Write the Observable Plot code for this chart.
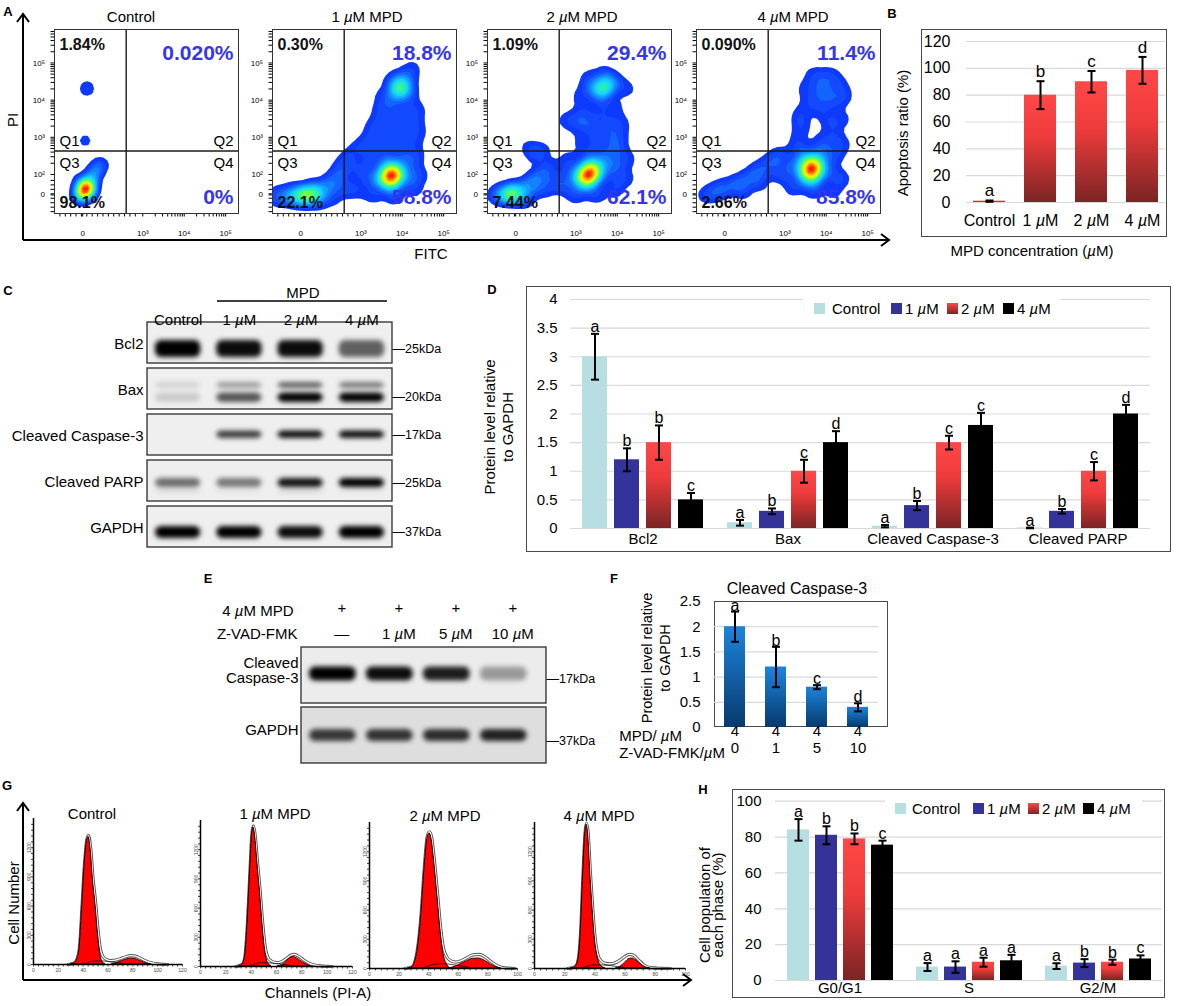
<!DOCTYPE html>
<html>
<head>
<meta charset="utf-8">
<script src="https://cdn.jsdelivr.net/npm/d3@7"></script>
<script src="https://cdn.jsdelivr.net/npm/@observablehq/plot@0.6"></script>
<style>
html,body{margin:0;padding:0;background:#fff;}
#fig{position:relative;width:1178px;height:1006px;overflow:hidden;background:#fff;font-family:"Liberation Sans",Arial,Helvetica,sans-serif;}
#fig svg{max-width:none;}
</style>
</head>
<body>
<div id="fig">
<svg width="0" height="0" style="position:absolute;left:0;top:0">
<defs>
<linearGradient id="gRed" x1="0" y1="0" x2="0" y2="1">
<stop offset="0" stop-color="#ff4848"/><stop offset="0.4" stop-color="#ee3b3b"/><stop offset="1" stop-color="#7b2424"/>
</linearGradient>
<linearGradient id="gBlue" x1="0" y1="0" x2="0" y2="1">
<stop offset="0" stop-color="#1c84de"/><stop offset="1" stop-color="#073a6c"/>
</linearGradient>
<filter id="blurBand" filterUnits="userSpaceOnUse" x="-2000" y="-2000" width="5000" height="5000">
<feGaussianBlur stdDeviation="2.4"/>
</filter>
</defs>
</svg>
</div>
<script>
// ================= DATA =================
// Panel A – flow cytometry (x: log FITC, y: log PI, weight = local cell density)
const flowTitles = ["Control", "1 <i>µ</i>M MPD", "2 <i>µ</i>M MPD", "4 <i>µ</i>M MPD"];
const flowQ1 = ["1.84%", "0.30%", "1.09%", "0.090%"];
const flowQ2 = ["0.020%", "18.8%", "29.4%", "11.4%"];
const flowQ3 = ["98.1%", "22.1%", "7.44%", "2.66%"];
const flowQ4 = ["0%", "58.8%", "62.1%", "85.8%"];
const gateFITC = [2.6];
const gatePI = [2.63];
const flowXTicks = [1.55, 3, 4, 5];
const flowXLabels = ["0", "10³", "10⁴", "10⁵"];
const flowYTicks = [1.45, 2, 3, 4, 5];
const flowYLabels = ["0", "10²", "10³", "10⁴", "10⁵"];
const flowCtrl = [
  [1.61,1.60,10],[1.7,1.78,3],[1.8,1.98,2],[1.9,2.18,1.4],[1.5,1.8,1.2],[1.45,1.4,1.4],[1.75,1.5,1.5],[1.55,1.45,2],[2.0,2.3,0.8],
  [1.65,4.31,1.2],
  [1.61,2.91,0.9]
];
const flow1 = [
  [0.9,1.4,2],[1.15,1.42,3],[1.4,1.45,4],[1.55,1.44,4],[1.67,1.46,5],[1.8,1.48,4],[1.9,1.5,4],[2.1,1.6,3],[2.3,1.75,2.5],[2.45,1.95,2],[2.3,1.35,1.5],[2.0,1.3,1.5],[1.6,1.3,1.5],[2.55,2.2,2],[2.7,2.45,2],[2.6,1.6,2],
  [3.73,1.97,7],[3.63,1.9,4],[3.83,2.05,4],[3.7,2.1,3],[3.78,1.84,3],
  [3.55,1.85,4],[3.9,2.1,4],[3.75,1.7,3],[3.6,2.2,3],[4.1,1.9,3],[4.2,2.3,2],[3.3,1.9,2.5],[3.0,2.1,2],[2.9,1.6,2],[3.3,1.45,2],[3.8,1.4,2],[4.3,1.6,2],[4.4,2.0,2],[3.2,2.45,2],[3.6,2.5,2],[4.0,2.5,2],[4.35,2.55,1.5],
  [2.95,2.75,1.5],[3.2,2.9,2],[3.5,2.9,2],[3.85,2.9,2],[4.2,2.9,1.8],[4.4,3.1,1.5],[3.3,3.3,1.8],[3.6,3.3,2],[3.95,3.3,2],[4.3,3.4,1.6],[3.45,3.7,1.8],[3.75,3.7,2],[4.1,3.7,2],[4.4,3.75,1.5],[3.6,4.05,2],
  [3.93,4.31,5],[3.85,4.2,3],[4.0,4.42,3],[4.15,4.2,3],[3.8,4.5,2.5],[4.1,4.6,2.5],[4.25,4.85,1.5],[3.2,4.34,0.9]
];
const flow2 = [
  [1.06,1.45,2],[1.3,1.47,3.5],[1.4,1.47,4],[1.5,1.49,6],[1.7,1.55,3.5],[1.9,1.75,3],[2.1,1.95,2.5],[2.35,2.15,2.5],[1.8,1.3,1.5],[2.2,1.6,2],[2.5,1.75,2],[2.0,2.55,1.6],[2.2,2.65,1.4],[1.85,2.75,1.2],
  [3.30,2.03,7],[3.2,1.95,4],[3.4,2.1,4],[3.28,2.15,3],[3.35,1.9,3],
  [3.15,1.85,4],[3.45,2.2,4],[3.3,1.75,3],[3.6,2.0,3],[3.7,2.4,3.5],[3.95,2.2,2.5],[2.95,2.0,2.5],[2.8,2.35,2],[2.75,1.7,2],[3.0,1.45,2],[3.5,1.45,2],[3.95,1.6,2],[4.2,1.9,1.8],[4.25,2.4,1.6],[3.3,2.5,2],[4.0,2.65,2],
  [3.05,2.9,1.2],[3.45,2.9,2],[3.85,2.9,2.3],[4.1,3.0,1.6],[2.75,3.45,1.3],[2.95,3.45,1.4],[3.15,3.4,1.5],[3.4,3.3,1.8],[3.8,3.3,2],[4.1,3.4,1.5],[3.2,3.7,1.5],[3.6,3.7,1.8],[3.95,3.8,1.5],[3.1,4.1,1.5],
  [3.66,4.31,5],[3.58,4.2,3],[3.74,4.42,3],[3.4,4.35,2.5],[3.95,4.45,2.5],[3.7,4.7,2],[3.3,4.6,1.5],[4.25,4.3,1.5]
];
const flow4 = [
  [1.1,1.45,1.8],[1.35,1.55,2.2],[1.6,1.65,2.5],[1.9,1.78,2.5],[2.2,1.95,2.5],[2.45,2.15,2.5],[2.4,1.75,1.5],[2.0,1.5,1.3],[2.7,2.35,2],
  [3.64,2.16,7],[3.54,2.08,4],[3.74,2.24,4],[3.6,2.3,3],[3.7,2.02,3],
  [3.5,1.95,4],[3.8,2.35,4],[3.7,1.9,3],[3.45,2.35,3],[4.0,2.1,3],[4.2,2.5,2],[4.35,1.9,2],[3.2,2.2,2.5],[2.9,2.0,2],[2.9,2.5,2],[3.2,1.65,2],[3.7,1.55,2],[4.2,1.5,1.5],[3.4,2.6,2],[3.9,2.65,2],
  [3.3,2.9,1.6],[3.4,3.3,1.6],[3.35,3.6,1.5],[3.9,2.9,1.6],[4.2,3.0,1.6],[4.4,2.8,1.5],[4.1,3.4,1.6],[4.4,3.5,1.4],[3.9,3.7,1.5],[3.6,3.9,1.6],[3.9,4.1,2.2],[4.2,4.0,2],[3.5,4.3,1.6],[3.9,4.4,2.5],[4.3,4.4,2],[3.7,4.7,1.6],[4.1,4.7,1.6],[4.45,4.1,1.4]
];

// Panel B – apoptosis ratio
const bCats = ["Control", "1 µM", "2 µM", "4 µM"];
const bVals = [1.0, 80, 90, 98.5];
const bErr = [0.5, 10.4, 8, 10];
const bLetters = ["a", "b", "c", "d"];
const bTicks = [0, 20, 40, 60, 80, 100, 120];

// Panel C – western blot (relative band darkness per lane)
const blotProteins = ["Bcl2", "Bax", "Cleaved Caspase-3", "Cleaved PARP", "GAPDH"];
const blotLaneNames = ["Control", "1 µM", "2 µM", "4 µM"];
const blotLanes = [0, 1, 2, 3];
const blotKda = ["25kDa", "20kDa", "17kDa", "25kDa", "37kDa"];
const bcl2Band = [1.0, 0.95, 0.95, 0.6];
const baxUpper = [0.12, 0.35, 0.6, 0.5];
const baxLower = [0.15, 0.65, 1.0, 1.0];
const casp3Band = [0.0, 0.75, 0.95, 0.95];
const parpBand = [0.55, 0.5, 0.92, 1.0];
const parpLower = [0.12, 0.06, 0.14, 0.06];
const gapdhBand = [1.0, 1.0, 0.95, 1.0];

// Panel D – protein levels
const dProteins = ["Bcl2", "Bax", "Cleaved Caspase-3", "Cleaved PARP"];
const dGroups = ["Control", "1 µM", "2 µM", "4 µM"];
const dControl = [3.0, 0.1, 0.04, 0.01];
const d1uM = [1.2, 0.3, 0.4, 0.3];
const d2uM = [1.5, 1.0, 1.5, 1.0];
const d4uM = [0.5, 1.5, 1.8, 2.0];
const dErrCtrl = [0.4, 0.05, 0.02, 0.006];
const dErr1 = [0.2, 0.05, 0.08, 0.04];
const dErr2 = [0.3, 0.2, 0.12, 0.16];
const dErr4 = [0.12, 0.2, 0.22, 0.16];
const dLetCtrl = ["a", "a", "a", "a"];
const dLet1 = ["b", "b", "b", "b"];
const dLet2 = ["b", "c", "c", "c"];
const dLet4 = ["c", "d", "c", "d"];
const dTicks = [0, 0.5, 1, 1.5, 2, 2.5, 3, 3.5, 4];

// Panel E – blot with Z-VAD-FMK
const eRows = ["Cleaved\nCaspase-3", "GAPDH"];
const eKda = ["17kDa", "37kDa"];
const eMpd = ["+", "+", "+", "+"];
const eZvad = ["—", "1 µM", "5 µM", "10 µM"];
const eCasp3 = [1.0, 0.95, 0.88, 0.35];
const eGapdh = [0.75, 0.77, 0.8, 0.85];

// Panel F – cleaved caspase-3 quantification
const fLanes = ["0", "1", "5", "10"];
const fMpd = ["4", "4", "4", "4"];
const fVals = [2.0, 1.2, 0.8, 0.4];
const fErr = [0.3, 0.4, 0.04, 0.08];
const fLetters = ["a", "b", "c", "d"];
const fTicks = [0, 0.5, 1, 1.5, 2, 2.5];

// Panel G – cell-cycle histograms [channel, count]
const gTitles = ["Control", "1 <i>µ</i>M MPD", "2 <i>µ</i>M MPD", "4 <i>µ</i>M MPD"];
const hCtrlG1 = [[30,0],[33,15],[35,50],[37,160],[39,560],[41,1000],[43,1270],[44.3,1310],[46,1180],[48,850],[50,600],[52,300],[54,90],[56,20],[58,0]];
const hCtrlG2 = [[63,0],[67,15],[71,35],[75,52],[79,62],[83,52],[87,32],[91,12],[95,0]];
const hCtrlS = [[40,0],[45,25],[50,38],[56,36],[62,28],[68,18],[74,8],[78,0]];
const hCtrlTot = [[28,0],[33,17],[35,55],[37,170],[39,575],[41,1015],[43,1285],[44.3,1325],[46,1200],[48,880],[50,640],[52,350],[54,150],[56,80],[59,50],[62,40],[66,45],[70,60],[74,78],[78,92],[82,86],[86,65],[90,40],[95,18],[100,6],[104,2],[108,0]];
const h1G1 = [[30,0],[33,20],[35,90],[37,420],[39,950],[40.5,1330],[41.7,1430],[43,1350],[45,1050],[47,760],[49,420],[51,160],[53,45],[56,0]];
const h1G2 = [[61,0],[65,20],[68,55],[71,90],[73,100],[76,85],[80,50],[84,20],[88,0]];
const h1S = [[38,0],[43,28],[48,40],[54,38],[60,30],[66,20],[72,8],[76,0]];
const h1Tot = [[28,0],[33,22],[35,95],[37,430],[39,965],[40.5,1345],[41.7,1445],[43,1365],[45,1070],[47,790],[49,460],[51,210],[53,100],[56,55],[60,40],[64,50],[68,85],[72,120],[74,125],[77,110],[81,72],[85,38],[90,16],[95,6],[100,2],[104,0]];
const h2G1 = [[26,0],[29,18],[31,80],[33,250],[35,560],[37,1000],[39,1330],[40.5,1386],[42,1320],[44,1050],[46,720],[48,380],[50,150],[52,50],[55,0]];
const h2G2 = [[54,0],[58,20],[62,48],[66,78],[70,100],[74,103],[78,80],[82,42],[86,12],[89,0]];
const h2S = [[35,0],[40,30],[45,45],[50,50],[55,42],[60,30],[66,15],[72,0]];
const h2Tot = [[24,0],[29,20],[31,88],[33,265],[35,580],[37,1025],[39,1355],[40.5,1405],[42,1345],[44,1085],[46,765],[48,430],[50,210],[52,125],[55,78],[58,66],[62,80],[66,112],[70,140],[74,145],[78,120],[82,72],[86,32],[90,10],[94,3],[98,0]];
const h4G1 = [[24,0],[27,18],[29,90],[30.5,350],[32,900],[33.5,1380],[34.4,1480],[35.5,1380],[37,960],[38.5,600],[40,300],[42,100],[44,30],[47,0]];
const h4G2 = [[54,0],[57,20],[60,60],[63,100],[65,103],[68,75],[71,35],[74,10],[77,0]];
const h4S = [[30,0],[35,25],[40,38],[45,36],[50,30],[55,20],[60,10],[65,0]];
const h4Tot = [[22,0],[27,20],[29,95],[30.5,360],[32,915],[33.5,1395],[34.4,1495],[35.5,1400],[37,985],[38.5,630],[40,335],[42,140],[44,80],[47,52],[50,48],[54,62],[57,90],[60,125],[63,145],[66,132],[69,85],[72,42],[75,16],[79,6],[84,2],[90,0]];

// Panel H – cell population per phase
const hPhases = ["G0/G1", "S", "G2/M"];
const hControl = [84, 7.5, 8];
const h1uM = [81, 7.5, 9.7];
const h2uM = [79, 10.2, 10.2];
const h4uM = [75.5, 11, 12];
const hErrCtrl = [6, 2.2, 1.6];
const hErr1 = [5, 3.2, 2.2];
const hErr2 = [3, 2.5, 1.4];
const hErr4 = [2.5, 3.3, 2];
const hLetCtrl = ["a", "a", "a"];
const hLet1 = ["b", "a", "b"];
const hLet2 = ["b", "a", "b"];
const hLet4 = ["c", "a", "c"];
const hTicks = [0, 20, 40, 60, 80, 100];

// ================= STYLE / HELPERS =================
const FONT = '"Liberation Sans", Arial, Helvetica, sans-serif';
const BLUE = "#3535ee";
const groupFills = ["#b7dfe1", "#333399", "url(#gRed)", "#000000"];
const groupCss = ["#b7dfe1", "#333399", "linear-gradient(#ff4848,#7b2424)", "#000"];
const baseStyle = {fontFamily: FONT, fontSize: "15px", background: "transparent", overflow: "visible", color: "#000"};
const fig = document.getElementById("fig");
const jet = d3.piecewise(d3.interpolateRgb, ["#0a28ff","#1450ff","#1496ff","#14d2ff","#28f0b4","#64ff50","#d2ff14","#ffe600","#ff8c00","#ff1e00"]);
const capSym = {draw(ctx) { ctx.moveTo(-4, 0); ctx.lineTo(4, 0); }};

function italicMu(root) {
  root.querySelectorAll("text, tspan").forEach(el => {
    if (el.children.length) return;
    const s = el.textContent;
    if (!s.includes("µ")) return;
    el.textContent = "";
    s.split("µ").forEach((part, i) => {
      if (i > 0) {
        const t = document.createElementNS("http://www.w3.org/2000/svg", "tspan");
        t.setAttribute("font-style", "italic");
        t.textContent = "µ";
        el.appendChild(t);
      }
      if (part) el.appendChild(document.createTextNode(part));
    });
  });
}
function place(node, left, top) {
  node.style.position = "absolute";
  node.style.left = left + "px";
  node.style.top = top + "px";
  italicMu(node);
  node.querySelectorAll('g[aria-label="band"], g[aria-description="band"]').forEach(g => g.setAttribute("filter", "url(#blurBand)"));
  fig.appendChild(node);
  return node;
}
function label(html, x, y, o = {}) {
  const d = document.createElement("div");
  d.innerHTML = html;
  const size = o.size || 15;
  Object.assign(d.style, {position: "absolute", left: x + "px", top: y + "px", fontSize: size + "px",
    fontWeight: o.weight || "normal", whiteSpace: "nowrap", lineHeight: (o.lh || size) + "px",
    color: o.color || "#000", textAlign: "center", fontFamily: FONT});
  const tx = o.anchor === "start" ? "0%" : o.anchor === "end" ? "-100%" : "-50%";
  d.style.transform = `translate(${tx},-50%)` + (o.rotate ? ` rotate(${o.rotate}deg)` : "");
  fig.appendChild(d);
  return d;
}
function box(x1, y1, x2, y2, border = "1.5px solid #4a4a4a", bg = "transparent") {
  const d = document.createElement("div");
  Object.assign(d.style, {position: "absolute", left: x1 + "px", top: y1 + "px", width: (x2 - x1) + "px",
    height: (y2 - y1) + "px", border, background: bg, boxSizing: "border-box"});
  fig.appendChild(d);
  return d;
}
function errorBars(rows, xKey) {
  return [
    Plot.ruleX(rows, {x: xKey, y1: d => d.v - d.e, y2: d => d.v + d.e, stroke: "#000", strokeWidth: 2}),
    Plot.dot(rows, {x: xKey, y: d => d.v + d.e, symbol: capSym, r: 3, fill: "none", stroke: "#000", strokeWidth: 2}),
    Plot.dot(rows, {x: xKey, y: d => d.v - d.e, symbol: capSym, r: 3, fill: "none", stroke: "#000", strokeWidth: 2})
  ];
}
function legend(x1, x2, yc, swX, txX) {
  box(x1, yc - 10, x2, yc + 10, "none", "#fff");
  dGroups.forEach((g, i) => {
    box(swX[i], yc - 5.5, swX[i] + 11, yc + 5.5, "none", groupCss[i]);
    label(g.replace("µ", "<i>µ</i>"), txX[i], yc, {anchor: "start", size: 15});
  });
}
function safe(f) { try { f(); } catch (e) { console.error(e); } }

// ================= PANEL A =================
const flowLeft = [54, 272, 487, 696];
const flowTitleX = [131, 367, 582, 793];
const flowData = [flowCtrl, flow1, flow2, flow4];
const flowBw = [3.5, 5, 5, 5];
function flowPlot(pts, bw, i) {
  const xMinor = d3.range(1.0, 2.95, 0.13).concat([3, 4].flatMap(d => d3.range(2, 10).map(k => d + Math.log10(k))));
  const yMinor = d3.range(1.0, 1.95, 0.12).concat([2, 3, 4, 5].flatMap(d => d3.range(2, 10).map(k => d + Math.log10(k))).filter(v => v < 5.9));
  const xt = flowXTicks.concat(xMinor);
  const yt = flowYTicks.concat(yMinor);
  const fmtX = v => { const j = flowXTicks.indexOf(v); return j >= 0 ? flowXLabels[j] : ""; };
  const fmtY = v => { const j = flowYTicks.indexOf(v); return j >= 0 ? flowYLabels[j] : ""; };
  const pctB = {fontSize: 16, fontWeight: "bold", fill: "#111"};
  const pctL = {fontSize: 21, fontWeight: "bold", fill: BLUE};
  return Plot.plot({
    width: 214, height: 216, marginLeft: 28, marginRight: 2, marginTop: 2, marginBottom: 30,
    style: {...baseStyle, fontSize: "8px"},
    x: {domain: [0.87, 5.31], ticks: xt, tickFormat: fmtX, tickSize: 3.5, tickPadding: 13, label: null},
    y: {domain: [0.95, 5.9], ticks: yt, tickFormat: fmtY, tickSize: 3.5, tickPadding: 6, label: null},
    color: {type: "linear", interpolate: jet},
    marks: [
      Plot.density(pts, {x: d => d[0], y: d => d[1], weight: d => d[2], bandwidth: bw, thresholds: 22, fill: "density", stroke: "none", clip: true}),
      Plot.ruleX(gateFITC, {stroke: "#1a1a1a", strokeWidth: 1.4}),
      Plot.ruleY(gatePI, {stroke: "#1a1a1a", strokeWidth: 1.4}),
      Plot.frame({stroke: "#333", strokeWidth: 1}),
      Plot.text([flowQ1[i]], {frameAnchor: "top-left", dx: 5, dy: 9, text: d => d, textAnchor: "start", ...pctB}),
      Plot.text([flowQ2[i]], {frameAnchor: "top-right", dx: -5, dy: 16, text: d => d, textAnchor: "end", ...pctL}),
      Plot.text([flowQ3[i]], {frameAnchor: "bottom-left", dx: 5, dy: -6, text: d => d, textAnchor: "start", ...pctB}),
      Plot.text([flowQ4[i]], {frameAnchor: "bottom-right", dx: -5, dy: -10, text: d => d, textAnchor: "end", ...pctL}),
      Plot.text(gatePI, {y: d => d, frameAnchor: "left", text: () => "Q1", dx: 5, dy: -10, textAnchor: "start", fontSize: 15}),
      Plot.text(gatePI, {y: d => d, frameAnchor: "right", text: () => "Q2", dx: -5, dy: -10, textAnchor: "end", fontSize: 15}),
      Plot.text(gatePI, {y: d => d, frameAnchor: "left", text: () => "Q3", dx: 5, dy: 12, textAnchor: "start", fontSize: 15}),
      Plot.text(gatePI, {y: d => d, frameAnchor: "right", text: () => "Q4", dx: -5, dy: 12, textAnchor: "end", fontSize: 15})
    ]
  });
}
flowData.forEach((pts, i) => safe(() => {
  place(flowPlot(pts, flowBw[i], i), flowLeft[i] - 28, 27);
  label(flowTitles[i], flowTitleX[i], 16, {size: 15});
}));
label("PI", 12, 120, {size: 15, rotate: -90});
label("FITC", 431, 253, {size: 15});

// ================= PANEL B =================
safe(() => {
  box(921, 29, 1167, 237);
  const rows = bCats.map((c, i) => ({cat: c, v: bVals[i], e: bErr[i], l: bLetters[i]}));
  const p = Plot.plot({
    width: 282, height: 208, marginLeft: 81, marginRight: 2, marginTop: 12, marginBottom: 35,
    style: {...baseStyle, fontSize: "16px"},
    x: {domain: bCats, paddingInner: 0.365, paddingOuter: 0.1, label: null, tickSize: 0, tickPadding: 12},
    y: {domain: [0, 120], ticks: bTicks, tickFormat: d => String(d), label: null, tickSize: 0, tickPadding: 16},
    marks: [
      Plot.ruleY(bTicks, {stroke: "#d9d9d9", strokeWidth: 1.2}),
      Plot.barY(rows, {x: "cat", y: "v", fill: "url(#gRed)"}),
      ...errorBars(rows, "cat"),
      Plot.text(rows, {x: "cat", y: d => d.v + d.e, text: "l", dy: -4, lineAnchor: "bottom", fontSize: 17})
    ]
  });
  place(p, 885, 29);
  label("Apoptosis ratio (%)", 902, 133, {size: 15, rotate: -90});
  label("MPD concentration  (<i>µ</i>M)", 1032, 250, {size: 15});
});

// ================= PANEL C =================
safe(() => {
  const cDomain = [-0.5, 3.5];
  const half = 0.37;
  const kdaDy = [6, 8, 0, 2, 5];
  const band = (p, vals, it, ib) => Plot.barX(vals.map((v, i) => ({p, lane: blotLanes[i], v})),
    {x1: d => d.lane - half, x2: d => d.lane + half, y: "p", fill: "#050505", fillOpacity: "v", insetTop: it, insetBottom: ib, rx: 6, ariaLabel: "band", ariaDescription: "band"});
  const p = Plot.plot({
    width: 450, height: 260, marginLeft: 147, marginRight: 58, marginTop: 31.7, marginBottom: 2,
    style: baseStyle,
    x: {domain: cDomain, axis: null},
    y: {domain: blotProteins, paddingInner: 0.098, paddingOuter: 0, axis: null},
    opacity: {domain: [0, 1], range: [0, 1]},
    marks: [
      Plot.barX(blotProteins, {x1: () => cDomain[0], x2: () => cDomain[1], y: d => d, fill: "#efefef", stroke: "#3a3a3a", strokeWidth: 1.4}),
      band("Bcl2", bcl2Band, 18, 6),
      band("Bax", baxUpper, 14, 21),
      band("Bax", baxLower, 24.5, 7),
      band("Cleaved Caspase-3", casp3Band, 16.5, 17),
      band("Cleaved PARP", parpBand, 18, 14),
      band("Cleaved PARP", parpLower, 29.5, 8.5),
      band("GAPDH", gapdhBand, 20, 9),
      Plot.text(blotProteins, {y: d => d, text: d => d, frameAnchor: "left", textAnchor: "end", dx: -4, dy: 1, fontSize: 15}),
      ...blotProteins.map((pr, i) => Plot.text([pr], {y: d => d, text: () => "—" + blotKda[i], frameAnchor: "right", textAnchor: "start", dy: kdaDy[i], fontSize: 12.5})),
      Plot.text(blotLaneNames, {x: (d, i) => blotLanes[i], text: d => d, frameAnchor: "top", dy: -8, fontSize: 15})
    ]
  });
  place(p, 0, 290);
  label("MPD", 303, 292, {size: 15});
});

// ================= PANEL D =================
safe(() => {
  box(526, 286, 1171, 552);
  const vals = [dControl, d1uM, d2uM, d4uM], errs = [dErrCtrl, dErr1, dErr2, dErr4], lets = [dLetCtrl, dLet1, dLet2, dLet4];
  const rows = dProteins.flatMap((pr, pi) => dGroups.map((g, gi) => ({p: pr, g, v: vals[gi][pi], e: errs[gi][pi], l: lets[gi][pi]})));
  const p = Plot.plot({
    width: 701, height: 266, marginLeft: 100, marginRight: 21, marginTop: 13, marginBottom: 24,
    style: baseStyle,
    facet: {data: rows, x: "p"},
    fx: {domain: dProteins, padding: 0, label: null, axis: "bottom", tickSize: 0, tickPadding: 5},
    x: {domain: dGroups, paddingInner: 0.22, paddingOuter: 0.34, axis: null},
    y: {domain: [0, 4], ticks: dTicks, tickFormat: d => String(d), tickSize: 0, tickPadding: 13, label: null},
    color: {domain: dGroups, range: groupFills},
    marks: [
      Plot.ruleY(dTicks, {stroke: "#d9d9d9", strokeWidth: 1.2}),
      Plot.barY(rows, {x: "g", y: "v", fill: "g"}),
      ...errorBars(rows, "g"),
      Plot.text(rows, {x: "g", y: d => d.v + d.e, text: "l", dy: -2, lineAnchor: "bottom", fontSize: 16})
    ]
  });
  place(p, 470, 286);
  legend(803, 1060, 308, [814, 891, 947, 1003], [832, 905, 961, 1017]);
  label("Protein level relative<br>to GAPDH", 499, 427, {size: 15, lh: 18, rotate: -90});
});

// ================= PANEL E =================
safe(() => {
  const eDomain = [-0.55, 3.75];
  const half = 0.41;
  const band = (r, vals, it, ib) => Plot.barX(vals.map((v, i) => ({r, lane: blotLanes[i], v})),
    {x1: d => d.lane - half, x2: d => d.lane + half, y: "r", fill: "#050505", fillOpacity: "v", insetTop: it, insetBottom: ib, rx: 6, ariaLabel: "band", ariaDescription: "band"});
  const p = Plot.plot({
    width: 400, height: 185, marginLeft: 101, marginRight: 54, marginTop: 62, marginBottom: 7,
    style: baseStyle,
    x: {domain: eDomain, axis: null},
    y: {domain: eRows, paddingInner: 0.067, paddingOuter: 0, axis: null},
    opacity: {domain: [0, 1], range: [0, 1]},
    marks: [
      Plot.barX(eRows, {x1: () => eDomain[0], x2: () => eDomain[1], y: d => d, fill: (d, i) => ["#ececec", "#dedede"][i], stroke: "#3a3a3a", strokeWidth: 1.4}),
      band(eRows[0], eCasp3, 19.5, 22.5),
      band(eRows[1], eGapdh, 22, 22),
      Plot.text(eRows, {y: d => d, text: d => d, frameAnchor: "left", textAnchor: "end", dx: -3, dy: -5, fontSize: 15, lineHeight: 1.0}),
      ...eRows.map((r, i) => Plot.text([r], {y: d => d, text: () => "—" + eKda[i], frameAnchor: "right", textAnchor: "start", dy: [3, 5][i], fontSize: 12.5})),
      Plot.text(eMpd, {x: (d, i) => blotLanes[i], text: d => d, frameAnchor: "top", dx: 9, dy: -45, fontSize: 15}),
      Plot.text(eZvad, {x: (d, i) => blotLanes[i], text: d => d, frameAnchor: "top", dx: 9, dy: -19, fontSize: 15}),
      Plot.text(["4 µM MPD"], {frameAnchor: "top-left", text: d => d, textAnchor: "end", dx: -8, dy: -42, fontSize: 15}),
      Plot.text(["Z-VAD-FMK"], {frameAnchor: "top-left", text: d => d, textAnchor: "end", dx: -4, dy: -19, fontSize: 15})
    ]
  });
  place(p, 200, 585);
});

// ================= PANEL F =================
safe(() => {
  box(714, 601, 888, 727);
  const rows = fLanes.map((l, i) => ({lane: l, v: fVals[i], e: fErr[i], l: fLetters[i], mpd: fMpd[i]}));
  const p = Plot.plot({
    width: 208, height: 171, marginLeft: 34, marginRight: 10, marginTop: 10, marginBottom: 35,
    style: baseStyle,
    x: {domain: fLanes, paddingInner: 0.48, paddingOuter: 0.24, axis: null},
    y: {domain: [0, 2.5], ticks: fTicks, tickFormat: d => String(d), tickSize: 0, tickPadding: 14, label: null},
    marks: [
      Plot.ruleY(fTicks.slice(1, -1), {stroke: "#d9d9d9", strokeWidth: 1.2}),
      Plot.barY(rows, {x: "lane", y: "v", fill: "url(#gBlue)"}),
      ...errorBars(rows, "lane"),
      Plot.text(rows, {x: "lane", y: d => d.v + d.e, text: "l", dy: -1, lineAnchor: "bottom", fontSize: 16}),
      Plot.text(rows, {x: "lane", frameAnchor: "bottom", text: "mpd", dy: 8, fontSize: 15}),
      Plot.text(rows, {x: "lane", frameAnchor: "bottom", text: "lane", dy: 25, fontSize: 15})
    ]
  });
  place(p, 680, 591);
  label("Cleaved Caspase-3", 797, 589, {size: 16});
  label("Protein level relative<br>to GAPDH", 656, 658, {size: 14.5, lh: 18, rotate: -90});
  label("MPD/ <i>µ</i>M", 682, 735, {size: 15, anchor: "end"});
  label("Z-VAD-FMK/<i>µ</i>M", 725, 752, {size: 15, anchor: "end"});
});

// ================= PANEL G =================
const histSets = [
  [hCtrlG1, hCtrlG2, hCtrlS, hCtrlTot, 120, {x0: 33, len: 149, top: 818}],
  [h1G1, h1G2, h1S, h1Tot, 120, {x0: 200, len: 152, top: 820}],
  [h2G1, h2G2, h2S, h2Tot, 100, {x0: 369, len: 148, top: 822}],
  [h4G1, h4G2, h4S, h4Tot, 100, {x0: 534, len: 151, top: 822}]
];
const gTitleXY = [[92, 813], [275, 813], [445, 815], [599, 815]];
histSets.forEach(([g1, g2, s, tot, xmax, o], i) => safe(() => {
  const cv = {x: d => d[0], y: d => d[1], curve: "monotone-x"};
  const p = Plot.plot({
    width: o.len + 14, height: 158, marginLeft: 10, marginRight: 4, marginTop: 2, marginBottom: 10,
    style: {...baseStyle, fontSize: "5px", color: "#444"},
    x: {domain: [0, xmax], ticks: d3.range(0, xmax + 0.1, 4), tickFormat: d => d % 20 === 0 ? String(d) : "", tickSize: 2.5, tickPadding: 1, label: null},
    y: {domain: [0, 1500], ticks: d3.range(0, 1500, 60), tickFormat: d => d % 300 === 0 ? String(d) : "", tickSize: 2, tickRotate: -90, tickPadding: 1, label: null},
    marks: [
      Plot.lineY(tot, {...cv, stroke: "#555", strokeWidth: 3.2}),
      Plot.lineY(tot, {...cv, stroke: "#fff", strokeWidth: 1.3}),
      Plot.areaY(g1, {...cv, fill: "#ff0000", stroke: "#000", strokeWidth: 1}),
      Plot.areaY(g2, {...cv, fill: "#ff0000", stroke: "#000", strokeWidth: 0.8}),
      Plot.lineY(s, {...cv, stroke: "#000", strokeWidth: 0.7}),
      Plot.ruleX([0], {stroke: "#000", strokeWidth: 1.5}),
      Plot.ruleY([0], {stroke: "#000", strokeWidth: 1.5})
    ]
  });
  place(p, o.x0 - 10, o.top - 2);
  label(gTitles[i], gTitleXY[i][0], gTitleXY[i][1], {size: 15});
}));
label("Cell Number", 13, 903, {size: 15, rotate: -90});
label("Channels  (PI-A)", 318, 992, {size: 15});

// ================= PANEL H =================
safe(() => {
  box(732, 789, 1165, 998);
  const vals = [hControl, h1uM, h2uM, h4uM], errs = [hErrCtrl, hErr1, hErr2, hErr4], lets = [hLetCtrl, hLet1, hLet2, hLet4];
  const rows = hPhases.flatMap((ph, pi) => dGroups.map((g, gi) => ({p: ph, g, v: vals[gi][pi], e: errs[gi][pi], l: lets[gi][pi]})));
  const p = Plot.plot({
    width: 435, height: 209, marginLeft: 45, marginRight: 3, marginTop: 11.7, marginBottom: 18,
    style: baseStyle,
    facet: {data: rows, x: "p"},
    fx: {domain: hPhases, padding: 0, label: null, axis: "bottom", tickSize: 0, tickPadding: 2},
    x: {domain: dGroups, paddingInner: 0.22, paddingOuter: 0.39, axis: null},
    y: {domain: [0, 100], ticks: hTicks, tickFormat: d => String(d), tickSize: 0, tickPadding: 14, label: null},
    color: {domain: dGroups, range: groupFills},
    marks: [
      Plot.ruleY(hTicks, {stroke: "#d9d9d9", strokeWidth: 1.2}),
      Plot.barY(rows, {x: "g", y: "v", fill: "g"}),
      ...errorBars(rows, "g"),
      Plot.text(rows, {x: "g", y: d => d.v + d.e, text: "l", dy: -2, lineAnchor: "bottom", fontSize: 16})
    ]
  });
  place(p, 730, 789);
  legend(885, 1142, 808, [895, 973, 1028, 1083], [912, 987, 1042, 1097]);
  label("Cell population of<br>each phase (%)", 711, 905, {size: 15, lh: 13, rotate: -90});
});

// ================= PANEL LETTERS & ARROWS =================
[["A", 8, 11], ["B", 892, 13], ["C", 8, 290], ["D", 492, 289], ["E", 208, 578], ["F", 614, 578], ["G", 7, 785], ["H", 703, 789]]
  .forEach(([t, x, y]) => label(t, x, y, {size: 13, weight: "bold"}));

fig.insertAdjacentHTML("beforeend", `<svg width="1178" height="1006" style="position:absolute;left:0;top:0;pointer-events:none">
<g stroke="#000" stroke-width="2" fill="none">
<path d="M23,240 V14"/><path d="M17,22 L23,14 L29,22"/>
<path d="M23,240 H889"/><path d="M881,234 L889,240 L881,246"/>
<path d="M23,980 V803"/><path d="M17,811 L23,803 L29,811"/>
<path d="M23,980 H691"/><path d="M683,974 L691,980 L683,986"/>
<path d="M217,301 H387" stroke-width="1.5"/>
</g></svg>`);
</script>
</body>
</html>
